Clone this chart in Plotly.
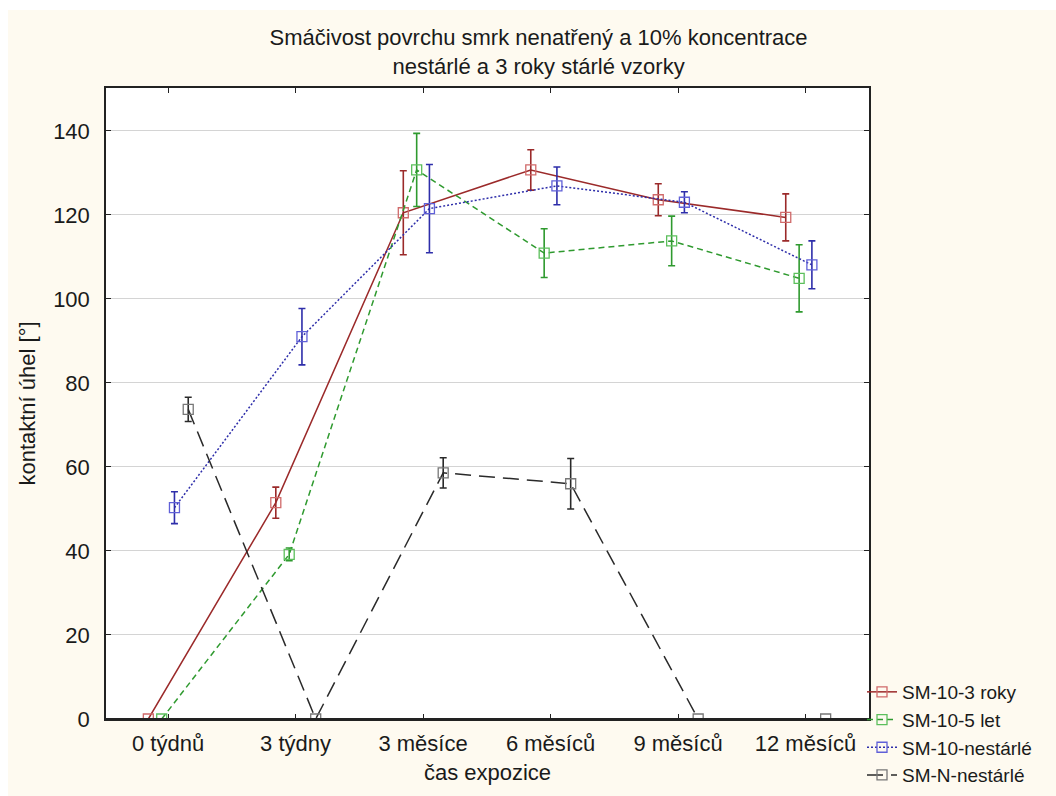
import plotly.graph_objects as go

categories = ["0 týdnů", "3 týdny", "3 měsíce", "6 měsíců", "9 měsíců", "12 měsíců"]
series_names = ["SM-10-3 roky", "SM-10-5 let", "SM-10-nestárlé", "SM-N-nestárlé"]

red_vals = [0, 51.5, 120.5, 130.7, 123.6, 119.4]
red_err = [0, 3.7, 10.0, 4.8, 3.8, 5.6]
green_vals = [0, 39.2, 130.7, 110.9, 113.8, 104.9]
green_err = [0, 1.5, 8.7, 5.8, 5.9, 8.0]
blue_vals = [50.3, 91.0, 121.5, 126.9, 123.0, 108.1]
blue_err = [3.8, 6.7, 10.5, 4.5, 2.5, 5.7]
black_vals = [73.7, 0, 58.6, 56.0, 0, 0]
black_err = [2.9, 0, 3.6, 6.0, 0, 0]

W, H = 1056, 796
L, R, T, B = 106, 869, 88, 719  # plot area pixels

styles = [
    dict(vals=red_vals, err=red_err, off=-0.155, line="#9b2a2a", dash="solid", mk="#d06a6a"),
    dict(vals=green_vals, err=green_err, off=-0.05, line="#2f9a2f", dash="6px,4px", mk="#5cbf5c"),
    dict(vals=blue_vals, err=blue_err, off=0.05, line="#2e2eaa", dash="2px,2px", mk="#6060d8"),
    dict(vals=black_vals, err=black_err, off=0.158, line="#2a2a2a", dash="16px,8px", mk="#777777"),
]

fig = go.Figure()
for name, s in zip(series_names, styles):
    xs = [i + s["off"] for i in range(len(categories))]
    fig.add_trace(go.Scatter(
        x=xs, y=s["vals"], name=name, mode="lines+markers",
        line=dict(color=s["line"], width=1.5, dash=s["dash"]),
        marker=dict(symbol="square-open", size=10, color=s["mk"], line=dict(width=1.3, color=s["mk"])),
        error_y=dict(type="data", array=s["err"], visible=True, color=s["line"], thickness=1.6, width=3.5),
    ))

font_family = "Liberation Sans, Arial, sans-serif"

def px_x(p):
    return (p - L) / (R - L)

def px_y(p):
    return (B - p) / (B - T)

fig.update_layout(
    width=W, height=H,
    margin=dict(l=L, r=W - R, t=T, b=H - B, autoexpand=False),
    paper_bgcolor="#fefaf0",
    plot_bgcolor="white",
    font=dict(family=font_family, size=22, color="#1a1a1a"),
    title=dict(
        text="Smáčivost povrchu smrk nenatřený a 10% koncentrace<br>nestárlé a 3 roky stárlé vzorky",
        x=0.51, xanchor="center", y=1 - 45 / H, yanchor="middle",
        font=dict(size=22, color="#1a1a1a"),
    ),
    showlegend=True,
    legend=dict(
        x=px_x(862), xanchor="left", y=px_y(673), yanchor="top",
        bgcolor="rgba(0,0,0,0)", font=dict(size=19, color="#1a1a1a"),
        tracegroupgap=0, itemwidth=30,
    ),
    xaxis=dict(
        range=[-0.487, 5.498], tickmode="array", tickvals=list(range(len(categories))),
        ticktext=categories, showgrid=False, zeroline=False,
        showline=True, linecolor="#222", linewidth=1.5, mirror="ticks",
        ticks="inside", ticklen=5, tickcolor="#222", tickwidth=1.2,
        tickfont=dict(size=22), automargin=False, ticklabelstandoff=4,
        layer="above traces",
        title=dict(text="čas expozice", font=dict(size=22), standoff=9),
    ),
    yaxis=dict(
        range=[0, 150.2], tickmode="array", tickvals=[0, 20, 40, 60, 80, 100, 120, 140],
        showgrid=True, gridcolor="#d4d4d4", gridwidth=1, zeroline=False,
        showline=True, linecolor="#222", linewidth=1.5, mirror="ticks",
        ticks="inside", ticklen=5, tickcolor="#222", tickwidth=1.2,
        tickfont=dict(size=22), automargin=False, ticklabelstandoff=10,
        layer="above traces",
        title=dict(text="kontaktní úhel [°]", font=dict(size=22), standoff=11),
    ),
    shapes=[
        dict(type="rect", xref="paper", yref="paper", x0=-0.3, x1=px_x(8), y0=-0.3, y1=1.3,
             fillcolor="white", line=dict(width=0), layer="above"),
        dict(type="rect", xref="paper", yref="paper", x0=-0.3, x1=1.5, y0=px_y(10), y1=1.3,
             fillcolor="white", line=dict(width=0), layer="above"),
        # bottom frame edge drawn over the plot area edge (covers line segments lying on y = 0)
        dict(type="line", xref="paper", yref="paper", x0=0, x1=1, y0=0, y1=0,
             line=dict(color="#222", width=2), layer="above"),
    ],
)

fig.write_html("out.html")
